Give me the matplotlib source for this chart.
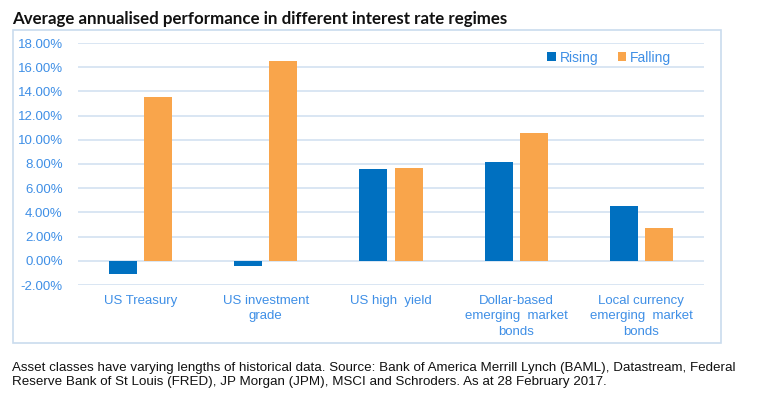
import numpy as np
import matplotlib.pyplot as plt
from matplotlib.patches import Rectangle
from matplotlib.ticker import FuncFormatter

categories = ["US Treasury", "US investment\ngrade", "US high  yield",
              "Dollar-based\nemerging  market\nbonds",
              "Local currency\nemerging  market\nbonds"]
rising = [-1.09, -0.47, 7.6, 8.2, 4.55]
falling = [13.5, 16.5, 7.7, 10.6, 2.7]
yticks = np.arange(-2, 19, 2)

BLUE = "#0070C0"
ORANGE = "#F9A54B"
TXT = "#3F8FE6"
GRID = "#D3E1F1"

W, H = 770, 399
fig = plt.figure(figsize=(W / 100, H / 100), dpi=100)

# outer chart frame
fig.patches.append(Rectangle((13 / W, 1 - 343 / H), 708 / W, 313.5 / H,
                             transform=fig.transFigure, fill=False,
                             edgecolor="#CADCEE", linewidth=1.2))

ax = fig.add_axes([78 / W, 1 - 285 / H, 626 / W, 242 / H])
x = np.arange(len(categories))
bw = 0.224
ax.bar(x - 0.14, rising, bw, color=BLUE, label="Rising", zorder=3)
ax.bar(x + 0.14, falling, bw, color=ORANGE, label="Falling", zorder=3)

ax.set_xlim(-0.5, len(categories) - 0.5)
ax.set_ylim(-2, 18)
ax.set_yticks(yticks)
ax.yaxis.set_major_formatter(FuncFormatter(lambda v, p: f"{v:.2f}%"))
ax.grid(axis="y", color=GRID, linewidth=1.2, zorder=0)
for s in ax.spines.values():
    s.set_visible(False)
ax.tick_params(length=0)
ax.tick_params(axis="y", pad=11, labelsize=9.5, labelcolor=TXT)
ax.set_xticks(x)
ax.set_xticklabels(categories, fontsize=9.5, color=TXT, linespacing=1.38)
ax.tick_params(axis="x", pad=7)
for lab in ax.get_xticklabels() + ax.get_yticklabels():
    lab.set_family("Liberation Sans")

leg = ax.legend(loc="upper right", bbox_to_anchor=(0.968, 1.02), ncol=2,
                frameon=False, handlelength=0.6, handleheight=0.6,
                handletextpad=0.3, columnspacing=1.4,
                prop={"family": "Liberation Sans", "size": 10})
for t in leg.get_texts():
    t.set_color(TXT)

fig.text(12 / W, 1 - 24 / H,
         "Average annualised performance in different interest rate regimes",
         fontsize=12.2, fontweight="bold", family="Lato", va="baseline",
         color="#111111")

fig.text(12 / W, 1 - 362 / H,
         "Asset classes have varying lengths of historical data. Source: Bank of America Merrill Lynch (BAML), Datastream, Federal\n"
         "Reserve Bank of St Louis (FRED), JP Morgan (JPM), MSCI and Schroders. As at 28 February 2017.",
         fontsize=9.6, family="Liberation Sans", va="top", linespacing=1.2,
         color="#111111")

fig.savefig("out.png", dpi=100)
